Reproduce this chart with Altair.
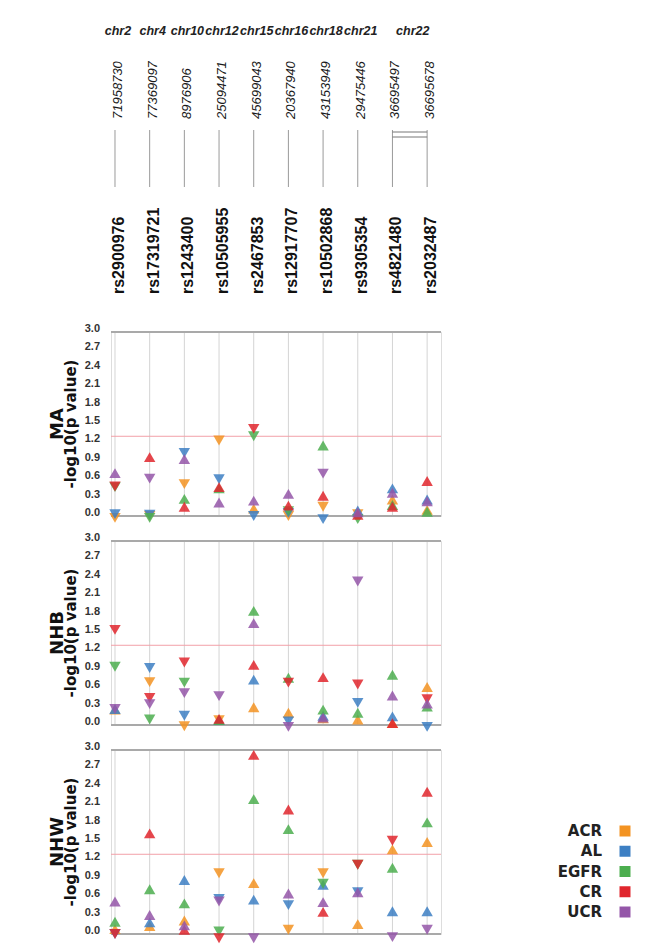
import altair as alt
import pandas as pd

SNPS = ["rs2900976", "rs17319721", "rs1243400", "rs10505955", "rs2467853",
        "rs12917707", "rs10502868", "rs9305354", "rs4821480", "rs2032487"]
CHROMS = ["chr2", "chr4", "chr10", "chr12", "chr15", "chr16", "chr18", "chr21", "chr22", "chr22"]
POSITIONS = ["71958730", "77369097", "8976906", "25094471", "45699043",
             "20367940", "43153949", "29475446", "36695497", "36695678"]

PHENOS = ["ACR", "AL", "EGFR", "CR", "UCR"]
COLORS = ["#f39322", "#3d7fc3", "#4cae4f", "#e0262d", "#9456a8"]
THRESHOLD = 1.3
Y_TICKS = [0.0, 0.3, 0.6, 0.9, 1.2, 1.5, 1.8, 2.1, 2.4, 2.7, 3.0]

# ---- MA panel ----
MA_ACR = [-0.03, 0.00, 0.52, 1.23, 0.12, 0.00, 0.15, 0.03, 0.27, 0.10]
MA_ACR_DIR = ["d", "d", "d", "d", "u", "d", "d", "d", "u", "u"]
MA_AL = [0.03, 0.02, 1.03, 0.60, 0.00, 0.05, -0.05, 0.09, 0.45, 0.27]
MA_AL_DIR = ["d", "d", "d", "d", "d", "d", "d", "u", "u", "u"]
MA_EGFR = [0.47, -0.03, 0.28, 0.45, 1.30, 0.08, 1.15, -0.05, 0.18, 0.07]
MA_EGFR_DIR = ["d", "d", "u", "u", "d", "d", "u", "d", "u", "u"]
MA_CR = [0.48, 0.96, 0.15, 0.47, 1.42, 0.17, 0.33, 0.02, 0.15, 0.57]
MA_CR_DIR = ["d", "u", "u", "u", "d", "u", "u", "u", "u", "u"]
MA_UCR = [0.70, 0.61, 0.93, 0.22, 0.25, 0.36, 0.69, 0.06, 0.38, 0.24]
MA_UCR_DIR = ["u", "d", "u", "u", "u", "u", "d", "u", "u", "u"]

# ---- NHB panel ----
NHB_ACR = [0.25, 0.70, -0.02, 0.08, 0.29, 0.20, 0.11, 0.09, 0.03, 0.62]
NHB_ACR_DIR = ["u", "d", "d", "d", "u", "u", "u", "u", "u", "u"]
NHB_AL = [0.26, 0.93, 0.15, 0.08, 0.74, 0.06, 0.15, 0.36, 0.14, -0.03]
NHB_AL_DIR = ["u", "d", "d", "u", "u", "d", "u", "d", "u", "d"]
NHB_EGFR = [0.95, 0.09, 0.69, 0.08, 1.86, 0.77, 0.25, 0.20, 0.82, 0.30]
NHB_EGFR_DIR = ["d", "d", "d", "u", "u", "u", "u", "u", "u", "u"]
NHB_CR = [1.55, 0.44, 1.02, 0.10, 0.98, 0.69, 0.78, 0.66, 0.03, 0.42]
NHB_CR_DIR = ["d", "d", "d", "u", "u", "d", "u", "d", "u", "d"]
NHB_UCR = [0.26, 0.34, 0.52, 0.47, 1.66, -0.03, 0.12, 2.34, 0.48, 0.35]
NHB_UCR_DIR = ["d", "d", "d", "d", "u", "d", "u", "d", "u", "u"]

# ---- NHW panel ----
NHW_ACR = [0.08, 0.13, 0.22, 0.99, 0.83, 0.07, 0.99, 0.16, 1.38, 1.50]
NHW_ACR_DIR = ["u", "u", "u", "d", "u", "d", "d", "u", "u", "u"]
NHW_AL = [0.00, 0.19, 0.88, 0.57, 0.56, 0.47, 0.80, 0.68, 0.37, 0.37]
NHW_AL_DIR = ["d", "u", "u", "d", "u", "d", "u", "d", "u", "u"]
NHW_EGFR = [0.20, 0.73, 0.50, 0.04, 2.20, 1.71, 0.82, 1.13, 1.08, 1.82]
NHW_EGFR_DIR = ["u", "u", "u", "d", "u", "u", "d", "d", "u", "u"]
NHW_CR = [0.00, 1.64, 0.07, -0.07, 2.92, 2.03, 0.36, 1.13, 1.52, 2.32]
NHW_CR_DIR = ["d", "u", "u", "d", "u", "u", "u", "d", "d", "u"]
NHW_UCR = [0.53, 0.31, 0.14, 0.53, -0.07, 0.66, 0.52, 0.68, -0.05, 0.07]
NHW_UCR_DIR = ["u", "u", "u", "d", "d", "u", "u", "u", "d", "d"]

PW = 330
PH = 184

snp_df = pd.DataFrame({"idx": list(range(len(SNPS))), "snp": SNPS,
                       "chr": CHROMS, "pos": POSITIONS})
tick_df = pd.DataFrame({"v": Y_TICKS})
line_df = pd.DataFrame({"v": [0.0, 3.0]})
thr_df = pd.DataFrame({"v": [THRESHOLD]})

XS = alt.Scale(domain=[-0.115, 9.4], nice=False, zero=False)
YS = alt.Scale(domain=[0, 3], nice=False, zero=False)
X = alt.X("idx:Q", scale=XS, axis=None)
Y = alt.Y("v:Q", scale=YS, axis=None)
COLOR = alt.Color("pheno:N", scale=alt.Scale(domain=PHENOS, range=COLORS), legend=None)
SHAPE = alt.Shape("dir:N", scale=alt.Scale(domain=["u", "d"], range=["triangle-up", "triangle-down"]),
                  legend=None)


def make_panel(name, series, header=False):
    rows = []
    for pheno, (vals, dirs) in zip(PHENOS, series):
        for i, (v, d) in enumerate(zip(vals, dirs)):
            rows.append({"idx": i, "snp": SNPS[i], "pheno": pheno, "v": v, "dir": d})
    df = pd.DataFrame(rows)

    vrules = alt.Chart(snp_df).mark_rule(color="#d4d4d4", strokeWidth=1).encode(x=X)
    hlines = alt.Chart(line_df).mark_rule(color="#a9a9a9", strokeWidth=2).encode(y=Y)
    thr = alt.Chart(thr_df).mark_rule(color="#f2a0a8", strokeWidth=1).encode(y=Y)
    pts = alt.Chart(df).mark_point(filled=True, size=130, opacity=0.85, strokeWidth=0).encode(
        x=X, y=Y, color=COLOR, shape=SHAPE)
    ylabels = alt.Chart(tick_df).mark_text(
        align="right", baseline="middle", fontWeight="bold", fontSize=11, color="#333333",
        dy=-3).encode(x=alt.value(-11), y=Y, text=alt.Text("v:Q", format=".1f"))
    t1 = alt.Chart(pd.DataFrame({"t": [name]})).mark_text(
        angle=270, font="DejaVu Sans", fontWeight="bold", fontSize=18, color="#111111",
        baseline="middle", align="center").encode(
        x=alt.value(-53), y=alt.value(PH / 2), text="t:N")
    t2 = alt.Chart(pd.DataFrame({"t": ["-log10(p value)"]})).mark_text(
        angle=270, font="DejaVu Sans", fontWeight="bold", fontSize=15, color="#111111",
        baseline="middle", align="center").encode(
        x=alt.value(-40), y=alt.value(PH / 2), text="t:N")
    layers = [vrules, hlines, thr, pts, ylabels, t1, t2]

    if header:
        chr_text = alt.Chart(snp_df).transform_aggregate(
            mid="mean(idx)", groupby=["chr"]).mark_text(
            fontStyle="italic", fontWeight="bold", fontSize=12.5, dx=3, color="#222222",
            baseline="middle").encode(
            x=alt.X("mid:Q", scale=XS, axis=None), y=alt.value(-301), text="chr:N")
        pos_text = alt.Chart(snp_df).mark_text(
            angle=270, align="left", baseline="middle", fontStyle="italic", fontSize=13,
            dy=3, color="#1a1a1a").encode(x=X, y=alt.value(-213), text="pos:N")
        ticks = alt.Chart(snp_df).mark_rule(color="#9a9a9a", strokeWidth=1).encode(
            x=X, y=alt.value(-202), y2=alt.value(-145))
        br1 = alt.Chart(snp_df).transform_aggregate(
            lo="min(idx)", hi="max(idx)", groupby=["chr"]).transform_filter(
            "datum.hi > datum.lo").mark_rule(color="#777777", strokeWidth=1).encode(
            x=alt.X("lo:Q", scale=XS, axis=None), x2="hi:Q", y=alt.value(-200))
        br2 = alt.Chart(snp_df).transform_aggregate(
            lo="min(idx)", hi="max(idx)", groupby=["chr"]).transform_filter(
            "datum.hi > datum.lo").mark_rule(color="#777777", strokeWidth=1).encode(
            x=alt.X("lo:Q", scale=XS, axis=None), x2="hi:Q", y=alt.value(-195))
        rs_text = alt.Chart(snp_df).mark_text(
            angle=270, align="left", baseline="middle", fontWeight="bold", fontSize=16,
            dy=4, color="#111111").encode(x=X, y=alt.value(-38), text="snp:N")
        layers += [chr_text, pos_text, ticks, br1, br2, rs_text]

    return alt.layer(*layers).properties(width=PW, height=PH)


ma = make_panel("MA", [(MA_ACR, MA_ACR_DIR), (MA_AL, MA_AL_DIR), (MA_EGFR, MA_EGFR_DIR),
                       (MA_CR, MA_CR_DIR), (MA_UCR, MA_UCR_DIR)], header=True)
nhb = make_panel("NHB", [(NHB_ACR, NHB_ACR_DIR), (NHB_AL, NHB_AL_DIR), (NHB_EGFR, NHB_EGFR_DIR),
                         (NHB_CR, NHB_CR_DIR), (NHB_UCR, NHB_UCR_DIR)])
nhw = make_panel("NHW", [(NHW_ACR, NHW_ACR_DIR), (NHW_AL, NHW_AL_DIR), (NHW_EGFR, NHW_EGFR_DIR),
                         (NHW_CR, NHW_CR_DIR), (NHW_UCR, NHW_UCR_DIR)])

# custom legend (labels left of swatches), drawn beside the NHW panel
leg_df = pd.DataFrame({"pheno": PHENOS, "rank": list(range(len(PHENOS)))})
LY = alt.Y("rank:Q", scale=alt.Scale(domain=[0, len(PHENOS) - 1], range=[81, 162], nice=False, zero=False),
           axis=None)
leg_text = alt.Chart(leg_df).mark_text(
    align="right", baseline="middle", font="DejaVu Sans", fontWeight="bold", fontSize=15,
    color="#222222").encode(x=alt.value(491), y=LY, text="pheno:N")
leg_sq = alt.Chart(leg_df).mark_square(size=121, opacity=1, strokeWidth=0).encode(
    x=alt.value(514), y=LY, color=COLOR)
legend = alt.layer(leg_text, leg_sq)

nhw_full = alt.layer(nhw, legend).resolve_scale(y="independent").properties(width=PW, height=PH)

chart = alt.vconcat(
    ma, nhb, nhw_full,
    spacing=25, bounds="flush"
).properties(
    padding={"left": 40, "top": 16, "right": 5, "bottom": 5}
).configure_view(strokeWidth=0, stroke=None).configure(font="Liberation Sans")

chart.save("out.html", embed_options={"renderer": "svg", "actions": False})
